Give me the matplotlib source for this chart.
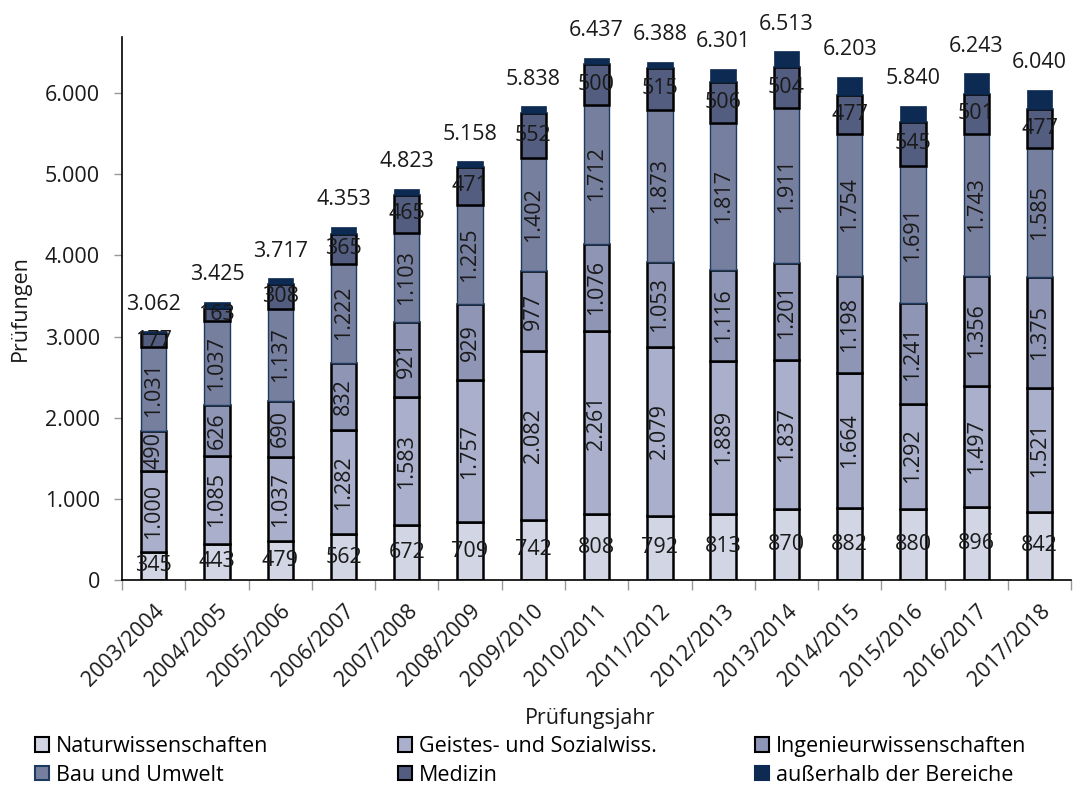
import numpy as np
import matplotlib.pyplot as plt
from matplotlib.patches import Patch

plt.rcParams['font.family'] = ['Open Sans', 'DejaVu Sans']

years = ['2003/2004', '2004/2005', '2005/2006', '2006/2007', '2007/2008',
         '2008/2009', '2009/2010', '2010/2011', '2011/2012', '2012/2013',
         '2013/2014', '2014/2015', '2015/2016', '2016/2017', '2017/2018']

natur = [345, 443, 479, 562, 672, 709, 742, 808, 792, 813, 870, 882, 880, 896, 842]
geistes = [1000, 1085, 1037, 1282, 1583, 1757, 2082, 2261, 2079, 1889, 1837, 1664, 1292, 1497, 1521]
ingenieur = [490, 626, 690, 832, 921, 929, 977, 1076, 1053, 1116, 1201, 1198, 1241, 1356, 1375]
bau = [1031, 1037, 1137, 1222, 1103, 1225, 1402, 1712, 1873, 1817, 1911, 1754, 1691, 1743, 1585]
medizin = [177, 163, 308, 365, 465, 471, 552, 500, 515, 506, 504, 477, 545, 501, 477]
totals = [3062, 3425, 3717, 4353, 4823, 5158, 5838, 6437, 6388, 6301, 6513, 6203, 5840, 6243, 6040]
ausser = [t - (a + b + c + d + e) for t, a, b, c, d, e in zip(totals, natur, geistes, ingenieur, bau, medizin)]

names = ['Naturwissenschaften', 'Geistes- und Sozialwiss.', 'Ingenieurwissenschaften',
         'Bau und Umwelt', 'Medizin', 'außerhalb der Bereiche']
colors = ['#d2d6e4', '#aab0cb', '#8e95b5', '#777f9f', '#525d80', '#0d2b52']
edges = ['black', 'black', 'black', '#1f3a5f', 'black', '#0d2b52']
lws = [1.8, 1.8, 1.8, 1.0, 1.8, 0.5]
rot = [0, 90, 90, 90, 0, None]

def fmt(v):
    return f'{v:,}'.replace(',', '.')

fs = 15.5
fig = plt.figure(figsize=(10.73, 7.88), dpi=100)
ax = fig.add_axes([0.1137, 0.264, 0.8846, 0.689])

x = np.arange(len(years))
series = [natur, geistes, ingenieur, bau, medizin, ausser]
bottom = np.zeros(len(years))
txtc = '#1a1a1a'
for vals, c, ec, lw, r in zip(series, colors, edges, lws, rot):
    vals = np.array(vals)
    ax.bar(x, vals, 0.4, bottom=bottom, color=c, edgecolor=ec, linewidth=lw, zorder=2)
    if r is not None:
        for xi, b, v in zip(x, bottom, vals):
            ax.text(xi, b + v / 2, fmt(int(v)), rotation=r, ha='center', va='center',
                    fontsize=fs, color=txtc, zorder=3)
    bottom = bottom + vals

for xi, t in zip(x, totals):
    ax.annotate(fmt(t), (xi, t), xytext=(0, 12), textcoords='offset points',
                ha='center', va='bottom', fontsize=fs, color=txtc)

ax.set_xlim(-0.5, len(years) - 0.5)
ax.set_ylim(0, 6690)
ax.set_yticks(range(0, 7000, 1000))
ax.set_yticklabels([fmt(v) for v in range(0, 7000, 1000)], fontsize=fs, color=txtc)
ax.set_xticks(x)
ax.set_xticklabels(years, rotation=45, ha='right', rotation_mode='anchor', fontsize=fs, color=txtc)
ax.tick_params(axis='x', length=0, pad=15)
ax.set_xticks(np.arange(-0.5, len(years)), minor=True)
ax.tick_params(axis='x', which='minor', length=7, color='#999999', width=1)
ax.tick_params(axis='y', length=6, color='#999999', width=1, pad=10)
for s in ['top', 'right']:
    ax.spines[s].set_visible(False)
ax.spines['left'].set_linewidth(1.2)
ax.spines['bottom'].set_linewidth(1.2)

ax.set_ylabel('Prüfungen', fontsize=fs, color=txtc, labelpad=10)
fig.text(0.55, 0.088, 'Prüfungsjahr', ha='center', va='center', fontsize=fs, color=txtc)

handles = [Patch(facecolor=c, edgecolor=ec, linewidth=1.5) for c, ec in zip(colors, edges)]
col_x = [0.033, 0.371, 0.704]
for k, cx in enumerate(col_x):
    idx = [k, k + 3]
    leg = fig.legend([handles[i] for i in idx], [names[i] for i in idx],
                     loc='upper left', bbox_to_anchor=(cx, 0.066), frameon=False, fontsize=fs,
                     handlelength=0.65, handleheight=0.65, handletextpad=0.3,
                     labelspacing=0.35, borderaxespad=0, borderpad=0)

fig.savefig('out.png', dpi=100)
